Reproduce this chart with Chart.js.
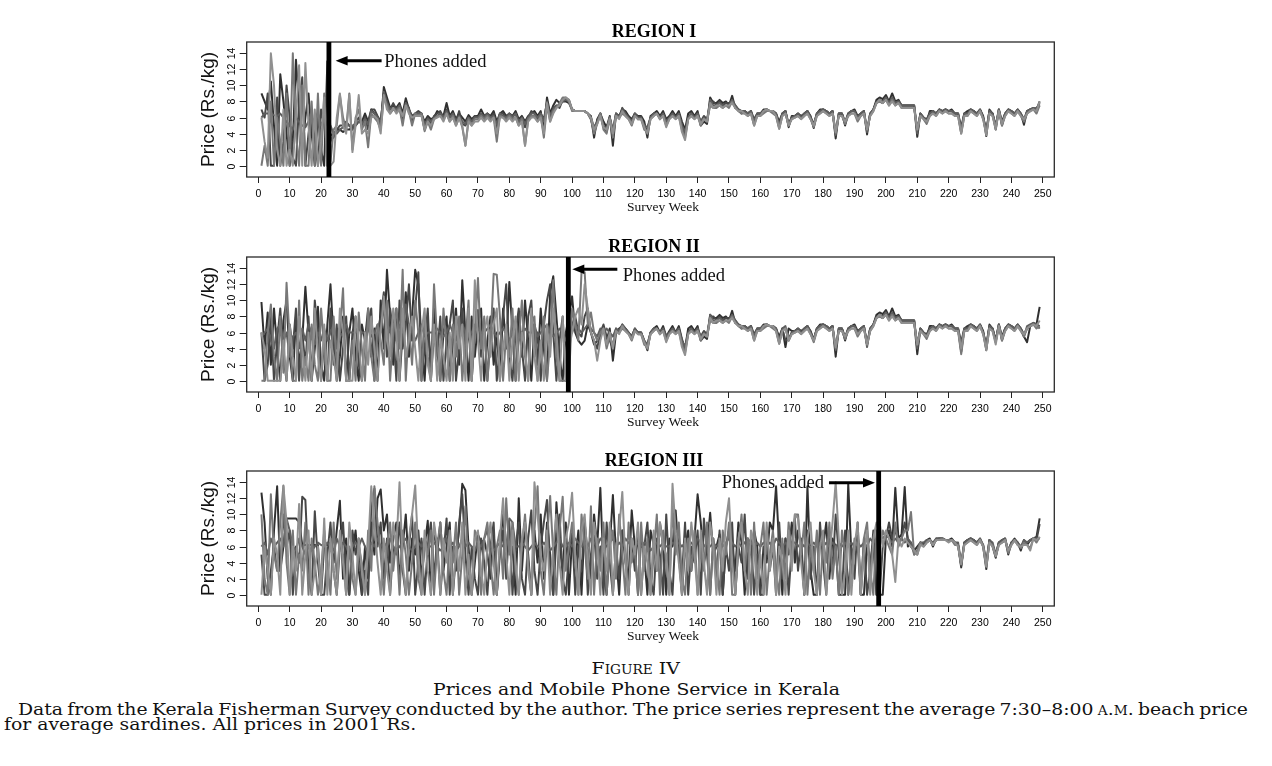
<!DOCTYPE html>
<html>
<head>
<meta charset="utf-8">
<script src="https://cdn.jsdelivr.net/npm/chart.js@4.4.0/dist/chart.umd.min.js"></script>
<style>
html,body{margin:0;padding:0;background:#fff;width:1272px;height:766px;overflow:hidden;}
.panel{position:absolute;left:0;width:1272px;height:215px;}
#p1{top:0px} #p2{top:215px} #p3{top:429px}
.cap{position:absolute;white-space:nowrap;font-family:"DejaVu Serif",serif;color:#111;line-height:1;}
.sc{font-variant:small-caps;}
</style>
</head>
<body>
<div class="panel" id="p1"><canvas id="c1" width="1272" height="215"></canvas></div>
<div class="panel" id="p2"><canvas id="c2" width="1272" height="215"></canvas></div>
<div class="panel" id="p3"><canvas id="c3" width="1272" height="215"></canvas></div>
<div id="figNum" class="cap sc">Figure IV</div>
<div id="figTitle" class="cap">Prices and Mobile Phone Service in Kerala</div>
<div id="line1" class="cap">Data from the Kerala Fisherman Survey conducted by the author. The price series represent the average 7:30–8:00 <span class="sc">a.m.</span> beach price</div>
<div id="line2" class="cap">for average sardines. All prices in 2001 Rs.</div>
<script>
// ---------------- DATA (weekly beach prices, Rs./kg) ----------------
const regionTitles = ['REGION I', 'REGION II', 'REGION III'];
const phoneWeeks = [22.5, 98.8, 197.7];
const xAxisTitle = 'Survey Week';
const yAxisTitle = 'Price (Rs./kg)';
const annotationText = 'Phones added';

// Region I
const r1_s1 = [
9,8,7,10.5,5,0,11.4,8,4,0,3,13.2,7,2,6,9,4,0,6.5,2,0,13,
4,3.5,4.5,4.5,4.2,4.5,4.5,4.8,5,5.5,
5.5,6.5,5.5,7,6.5,6,5,9.8,8.5,7.2,
7.5,7.2,7.8,6.5,8.4,7,6.2,6.5,6.5,6.5,
5.5,6.2,5.8,6,6.8,6.5,6.2,7.8,6.2,6.8,
5.8,6.5,6,5.5,6.3,5.8,6.2,6.2,7,6.2,
6.5,6.2,6.8,5.5,6.5,6.8,6.2,6.5,6.2,6.8,
5.8,6.2,5.5,6.2,6.5,6.8,6.2,6.8,4.5,8.5,
6.5,7.5,8.2,7.8,8,8,7.8,7,6.8,6.8,
6.8,6.8,6.5,6.2,3.5,5.8,6.5,5.5,4.8,6.2,
2.5,6.5,6.2,7,6.8,6.2,5.8,6.5,6.2,6.2,
5.5,3.5,6.2,6.5,6.8,6.2,6.8,5.8,6.2,6.8,
6.2,6.8,5.5,4.5,6.5,6.8,6.2,6.8,5,5.5,
5.2,8.5,7.8,7.8,8.2,7.8,8,7.5,8.7,7.2,
7,6.5,6.8,6.5,6.8,5.2,6.5,6.5,7,7,
6.8,6.8,6.5,5.5,6.5,6.8,4.8,6.2,6.2,6.5,
6.2,6.5,6.8,6.2,4.7,6.5,7,7,6.8,6.5,
6.8,3.4,6.5,6.5,5,6.5,6.8,7,6.2,6.5,
6.8,3.9,6.5,7,8.2,8.5,8.3,8.8,8,9,
8,8.2,7.5,7.5,7.5,7.5,7.5,3.6,6.5,6,
5.5,6.8,6.8,6.5,7,6.8,7,6.8,7,6.5,
6.5,4.2,6.5,6.8,7,6.8,6.5,7,6.2,3.7,
7,6.5,4.5,7,5.5,6.5,7,6.8,6.5,7,
6.5,5.1,6.8,7,7,7.2,7.5];
const r1_s2 = [
7,6,9,0,0,8.5,0,3,10,6,1,0,8,11,0,4,7,3,0,7,5,2,
3,4,4.5,5,5,5.5,5,4.5,5.5,6,
5,6,4.5,7,7,6.2,5.5,9,8,7,
7.8,7,7.2,5.5,7.8,7.2,5.5,6.5,6.8,6.5,
4.5,6,5.2,6.2,6.5,6.8,6,7,6,6.5,
5.5,6.8,5.2,5,6,5.5,6.2,6,6.5,6.2,
6.5,6,6.5,4.5,6.5,6.5,6,6.5,6.2,6.5,
5.2,6,4.8,6,6.8,6.5,5.8,6.5,5.8,7.8,
6,7.2,7.5,7.2,8.2,8.4,8.2,7,6.8,6.8,
6.8,6.8,6.5,5.8,4.2,5.5,6.5,4.8,4.2,6,
4.2,6.5,6,7.2,6.5,6,5.5,6.5,5.8,6,
4.8,4.5,6,6.5,6.5,6,6.5,5.5,6,6.5,
6,6.5,5,3.8,6,6.5,6,6.5,5.5,6.2,
5.8,7.8,8,7.5,8,7.5,7.8,7.8,8,7.5,
7,6.8,6.8,6.5,6.8,5.8,6.5,6.5,6.8,7,
6.8,6.8,6.5,4.8,6.5,6.8,5.2,6,6.2,6.5,
6,6.5,6.8,6,5.2,6.5,6.8,7,6.8,6.5,
6.8,4,6.5,6.5,5.5,6.5,6.8,6.8,6,6.5,
6.8,4.5,6.5,7,8,8,7.8,8.5,7.8,8.2,
7.8,8,7.5,7.5,7.5,7.5,7.5,4.5,6.5,6,
5.8,6.5,6.8,6.5,7,6.8,7,6.8,6.8,6.5,
6.5,4.8,6.5,6.5,7,6.8,6.5,7,6,4.5,
6.8,6.5,5,7,5,6.5,7,6.8,6.5,7,
6.5,5.8,6.8,7,7.2,7,8];
const r1_s3 = [
6,6.5,6.5,6.5,6.3,6.2,6.5,6,5.5,5,4.5,6,5.5,5,4.8,5.5,6,5.5,6.5,5,6,5,
5,4,4,4.5,4.8,5,5,5,5.2,5.5,
5.2,5.8,5.2,6.8,6.5,6,5.2,9.2,7.8,7,
7.2,7,7.5,6.2,7.8,7,6,6.5,6.5,6.5,
5.2,5.8,5.5,6,6.2,6.5,6,6.8,6,6.5,
5.5,6.2,5.5,5.2,6,5.5,6,6,6.5,6,
6.5,6,6.2,5.2,6.5,6.2,6,6.5,6,6.5,
5.5,6,5.2,6,6.5,6.5,6,6.5,5.5,8,
6.2,7,7.5,7.5,8,8.2,8,7,6.8,6.8,
6.8,6.8,6.5,6,4.8,5.5,6.5,5,4.5,6,
4.5,6.5,6,7,6.5,6,5.5,6.5,6,6,
5,4.8,6,6.5,6.5,6,6.5,5.5,6,6.5,
6,6.5,5,4.2,6,6.5,6,6.5,5.5,6,
5.5,8.2,7.5,7.5,7.8,7.5,7.5,7.5,8.2,7.5,
7,6.8,6.8,6.5,6.8,5.5,6.5,6.5,6.8,7,
6.8,6.8,6.5,5,6.5,6.8,5,6,6.2,6.5,
6,6.5,6.8,6,5,6.5,6.8,7,6.8,6.5,
6.8,3.8,6.5,6.5,5.2,6.5,6.8,6.8,6,6.5,
6.8,4.2,6.5,7,7.8,8.2,8,8.5,7.8,8.5,
7.8,8,7.5,7.5,7.5,7.5,7.5,4,6.5,6,
5.5,6.5,6.8,6.5,7,6.8,7,6.8,6.8,6.5,
6.5,4.5,6.5,6.5,7,6.8,6.5,7,6,4.2,
6.8,6.5,4.8,7,5.2,6.5,7,6.8,6.5,7,
6.5,5.5,6.8,7,7.2,7,7.8];
const r1_s4 = [
0,2.5,0,8,0,6,3,0,9,0,14,4,0,10,0,0,8,0,9,0,9,0,
0.5,4.5,5,8.8,6,4.5,9,2,6,7,
4.5,5.5,2.3,6.5,6,5.5,4.5,8.5,7.5,6.5,
7,6.8,7.2,5,7.5,6.8,5,6.5,6.2,6.5,
4.3,5.5,4.5,5.8,6.2,6.2,5.8,6.5,5.5,6.2,
5,6,4.8,2.5,5.8,5,5.8,5.8,6.2,5.8,
6.2,5.8,6,3,6.2,6,5.8,6.2,5.8,6,
5,5.8,2.5,5.8,6.2,6.2,5.5,6.2,3.5,7.5,
5.5,6.8,7.2,7.8,8.5,8.5,8,6.8,6.8,6.8,
6.8,6.8,6.5,5.8,4,5.2,6.5,4.5,4,6,
3.5,6.2,6,6.5,6.2,5.8,5,6.2,5.8,5.8,
4.5,4.2,5.8,6.2,6.5,5.8,6.2,5,5.8,6.2,
5.8,6.2,4.5,3.5,5.8,6.2,5.8,6.2,5,5.8,
5.5,7.5,7.2,7.2,7.5,7.2,7.5,7.2,8,7.2,
6.8,6.5,6.5,6.2,6.5,5,6.2,6.2,6.5,6.8,
6.8,6.5,6.2,4.6,6.2,6.5,5,5.8,6,6.2,
5.8,6.2,6.5,5.8,4.8,6.2,6.5,6.8,6.5,6.2,
6.5,4,6.2,6.2,5.2,6.2,6.5,6.5,5.5,6.2,
6.5,4.5,6.2,6.8,7.8,8,7.8,8.2,7.5,8.2,
7.5,7.8,7.2,7.2,7.2,7.2,7.2,4.5,6.2,5.8,
5.2,6.2,6.5,6.2,6.8,6.5,6.8,6.5,6.5,6.2,
6.2,4,6.2,6.2,6.8,6.5,6.2,6.8,5.8,4,
6.5,6.2,4.8,6.8,5,6.2,6.8,6.5,6.2,6.8,
6.2,5.5,6.5,6.8,7,6.5,7.5];
const r1_s5 = [
6,3,1,14,10,2,0,7,0,2,0,6,12.5,0,12.8,5,0,7,0,3,8.5,0,
0,0.5,6,9,5,4,8.8,1.7,5,8.8,
4,4.5,4,6,6.2,5.8,4,8.8,7,6.5,
7.2,6.5,7,6.2,7.5,6.5,6,6.2,6.2,6.2,
4.5,5.5,5,5.8,6,6.2,5.5,6.5,5.5,6,
5,6,5,2.5,5.5,5,5.5,5.5,6,5.5,
6,5.5,6,4,6,6,5.5,6,5.5,6,
5,5.5,2.5,5.5,6,6,5.5,6,4,7.8,
5.5,6.5,7.2,7.5,8.2,8.5,8.2,7,6.8,6.8,
6.8,6.8,6.5,6,4.5,5.2,6.2,4.8,4.5,5.8,
4,6.2,5.8,6.8,6.2,5.8,5.2,6.2,5.8,5.8,
4.8,4,5.8,6.2,6.5,5.8,6.2,4.8,5.8,6.2,
5.8,6.2,4.2,3.2,5.8,6.2,5.8,6.2,5.2,5.8,
5.5,7.8,7.2,7.5,7.5,7.2,7.5,7.5,7.8,7.2,
6.8,6.8,6.5,6.2,6.5,5,6.2,6.2,6.8,7,
6.8,6.8,6.2,4.6,6.2,6.5,5,5.8,6,6.2,
5.8,6.2,6.5,5.8,5,6.2,6.5,6.8,6.5,6.2,
6.5,4.2,6.2,6.2,5.5,6.2,6.5,6.5,5.8,6.2,
6.5,4.5,6.2,6.8,7.8,8.2,7.8,8.2,7.5,8,
7.5,7.8,7.2,7.2,7.2,7.2,7.2,4.5,6.2,5.8,
5.5,6.2,6.5,6.2,6.8,6.5,6.8,6.5,6.5,6.2,
6.2,4,6.2,6.2,6.8,6.5,6.2,6.8,5.8,3.8,
6.5,6.2,4.5,6.8,5.2,6.2,6.8,6.5,6.2,6.8,
6.2,5.8,6.5,6.8,7,6.8,8];

// Region II
const r2_s1 = [
9.8,4,8.5,2,9,4,0,7.5,10,3,
0,8,2,5,11.7,6,0,4,9.2,2,
0,7,12,5,0,3,8,0,6,9,
3,0,7,5,9,3,6.5,0,10,4,
13.8,8,2,9,0,6,11,3,8,13.8,
12,5,0,7,2,9,4,0,6,8,
0,5,9,2,12.5,6,0,8,3,7,
9,0,5,8,2,6,0,9,4,12.3,
6,0,8,3,10,5,0,7,2,9,
4,0,11,13,8,3,0,6,
8,10.5,6,5,4.5,5,7,6,4.5,5,5.5,6.5,5,6.5,2.5,6,6.5,6.8,6.5,6,5.5,6.5,6,
6,5,3.8,6,6.5,6.8,6,6.8,5.5,6.2,
6.8,6,6.8,5.2,4,6.5,6.8,6.2,6.8,5,
5.5,5.2,8.2,7.8,7.8,8.2,7.8,8,7.5,8.7,
7.2,7,6.5,6.8,6.5,6.8,5.2,6.5,6.5,7,
7,6.8,6.8,6.5,5.5,6.5,4.2,6.5,6.2,6.2,
6.5,6.2,6.5,6.8,6.2,5,6.5,7,7,6.8,
6.5,6.8,3,6.5,6.5,5,6.5,6.8,7,6.2,
6.5,6.8,4.6,6.5,7,8.2,8.5,8.3,8.8,8,
9,8,8.2,7.5,7.5,7.5,7.5,7.5,3.3,6.5,
6,5.5,6.8,6.8,6.5,7,6.8,7,6.8,7,
6.5,6.5,3.6,6.5,6.8,7,6.8,6.5,7,6.2,
3.8,7,6.5,5,7,5.5,6.5,7,6.8,6.5,
7,6.5,5.5,4.8,6.8,7,7,9.2];
const r2_s2 = [
6,0,2,8,0,5,9,3,0,7,
4,9,0,6,2,8,0,10,6,0,
5,0,9,2,7,0,4,8,0,6,
8,2,0,5,7,9,0,6,8,11,
3,9,6,0,10,4,7,12,5,9,
13.5,0,4,9,0,6,3,8,0,5,
7,10,0,4,9,2,7,0,6,8.8,
3,7,0,6,9,0,4,8,12,3,
0,6,9,4,0,8,10,3,6,0,
7,10,12,6,0,5,8,0,
5,7,8,6,5.5,8,9,6,5,4,6,7,5.5,5,4,6.5,6,7,6.5,6,5.5,6.2,6,
6,4.8,4.5,6,6.5,6.5,6,6.5,5.5,6,
6.5,6,6.5,5,3.8,6,6.5,6,6.5,5.5,
6.2,5.8,7.8,8,7.5,8,7.5,7.8,7.8,8,
7.5,7,6.8,6.8,6.5,6.8,5.8,6.5,6.5,6.8,
7,6.8,6.8,6.5,4.8,6.5,5,5.2,6,6.2,
6.5,6,6.5,6.8,6,5.2,6.5,6.8,7,6.8,
6.5,6.8,4,6.5,6.5,5.5,6.5,6.8,6.8,6,
6.5,6.8,4.5,6.5,7,8,8,7.8,8.5,7.8,
8.2,7.8,8,7.5,7.5,7.5,7.5,7.5,4.5,6.5,
6,5.8,6.5,6.8,6.5,7,6.8,7,6.8,6.8,
6.5,6.5,4.8,6.5,6.5,7,6.8,6.5,7,6,
4.5,6.8,6.5,5,7,5,6.5,7,6.8,6.5,
7,6.5,5.8,6.5,6.8,7.2,7,6.8];
const r2_s3 = [
5.5,6,6.5,5,4,6.5,7,5,6,3,
5.5,6,4,6.5,5,7,6,4.5,6,5,
6.5,5,6,7,4,6,5.5,7,6,6,
6,6.5,6,6,6.5,5.5,6,7,6,9,
7,6,8,5,7,6,9.5,7,6,5,
6,7,5.5,6,6,6,6.5,6,5.5,6,
7,6,5,6.5,7,6,5.5,6,7,6.5,
6,6,6.5,7,6,5.5,6,6.5,6,5,
6,7,5,6,6.5,6,6,7,5.5,6,
6.5,7,6,5.5,6,6.5,6,5,
6,6,7,6.5,6,6.5,7,6.5,6,5.5,6.5,6,6.5,6,5.5,6.5,6.2,7,6.5,6,5.5,6.5,6,
6,5,4.5,6,6.5,6.5,6,6.5,5.5,6,
6.5,6,6.5,5,4.2,6,6.5,6,6.5,5.5,
6,5.5,8.2,7.5,7.5,7.8,7.5,7.5,7.5,8.2,
7.5,7,6.8,6.8,6.5,6.8,5.5,6.5,6.5,6.8,
7,6.8,6.8,6.5,5,6.5,6.8,5,6,6.2,
6.5,6,6.5,6.8,6,5,6.5,6.8,7,6.8,
6.5,6.8,3.8,6.5,6.5,5.2,6.5,6.8,6.8,6,
6.5,6.8,4.2,6.5,7,7.8,8.2,8,8.5,7.8,
8.5,7.8,8,7.5,7.5,7.5,7.5,7.5,4,6.5,
6,5.5,6.5,6.8,6.5,7,6.8,7,6.8,6.8,
6.5,6.5,4.5,6.5,6.5,7,6.8,6.5,7,6,
4.2,6.8,6.5,4.8,7,5.2,6.5,7,6.8,6.5,
7,6.5,5.5,6.8,7,7.2,7,6.5];
const r2_s4 = [
0,0,6,9.5,3,0,8,1,12.2,5,
0,0,10,0,3,0,7,2,0,9,
4,0,0,8,2,6,11.5,0,0,5,
0,8.5,4,0,9,3,0,7,5,2,
10,0,6,9,4,13.8,0,7,2,10,
6,0,8,3,0,12,5,0,9,4,
0,7,3,8,0,5,10,0,6,12.8,
4,8,0,5,13.3,13.2,8,0,6,3,
9,0,5,10,3,0,7,8,0,4,
8,0,5,12.5,3,0,0,0,
0,9,7,5,13.5,13.5,7,8.5,6,5,6,6.5,4,5.5,4.5,6,6,6.5,6.2,5.8,5,6.2,5.8,
5.8,4.5,4.2,5.8,6.2,6.5,5.8,6.2,5,5.8,
6.2,5.8,6.2,4.5,3.5,5.8,6.2,5.8,6.2,5,
5.8,5.5,7.5,7.2,7.2,7.5,7.2,7.5,7.2,8,
7.2,6.8,6.5,6.5,6.2,6.5,5,6.2,6.2,6.5,
6.8,6.8,6.5,6.2,4.6,6.2,6.5,5,5.8,6,
6.2,5.8,6.2,6.5,5.8,4.8,6.2,6.5,6.8,6.5,
6.2,6.5,4,6.2,6.2,5.2,6.2,6.5,6.5,5.5,
6.2,6.5,4.5,6.2,6.8,7.8,8,7.8,8.2,7.5,
8.2,7.5,7.8,7.2,7.2,7.2,7.2,7.2,4.5,6.2,
5.8,5.2,6.2,6.5,6.2,6.8,6.5,6.8,6.5,6.5,
6.2,6.2,3.3,6.2,6.2,6.8,6.5,6.2,6.8,5.8,
4,6.5,6.2,4.8,6.8,5,6.2,6.8,6.5,6.2,
6.8,6.2,5.5,6.5,6.8,7,6.5,6.8];
const r2_s5 = [
6,4,0,0,0,0,0,5,0,7,
3,0,8,4,0,6,0,9,3,0,
7,0,5,3,0,9,6,0,0,0,
8,5,0,6,2,8,4,0,6,10.5,
5,3,9,6,0,9,3,5,8,4,
0,6,9,2,0,7,0,5,3,0,
6,0,8,4,7,0,9,0,12.5,5,
0,6,8,3,7,9,0,4,7,0,
5,8,0,6,4,0,9,3,0,5,
0,7,3,9,6,0,8,0,
4,6,8,9,7,12,9,6,5,2.5,5,6.5,4.5,6,4,6.2,5.8,6.8,6.2,5.8,5.2,6.2,5.8,
5.8,4.8,4,5.8,6.2,6.5,5.8,6.2,4.8,5.8,
6.2,5.8,6.2,4.2,3.2,5.8,6.2,5.8,6.2,5.2,
5.8,5.5,7.8,7.2,7.5,7.5,7.2,7.5,7.5,7.8,
7.2,6.8,6.8,6.5,6.2,6.5,5,6.2,6.2,6.8,
7,6.8,6.8,6.2,4.6,6.2,6.5,5,5.8,6,
6.2,5.8,6.2,6.5,5.8,5,6.2,6.5,6.8,6.5,
6.2,6.5,4.2,6.2,6.2,5.5,6.2,6.5,6.5,5.8,
6.2,6.5,4.5,6.2,6.8,7.8,8.2,7.8,8.2,7.5,
8,7.5,7.8,7.2,7.2,7.2,7.2,7.2,4.5,6.2,
5.8,5.5,6.2,6.5,6.2,6.8,6.5,6.8,6.5,6.5,
6.2,6.2,4,6.2,6.2,6.8,6.5,6.2,6.8,5.8,
3.8,6.5,6.2,4.5,6.8,5.2,6.2,6.8,6.5,6.2,
6.8,6.2,5.8,6.5,6.8,7,6.8,7.5];

// Region III
const r3_s1 = [
12.7,9,2,0,8,13.5,3,6,9.5,9.5,
9.5,9.5,9,6.2,6.2,6.2,6.2,6.2,6.2,0,
6.2,6.2,6.5,4,8,11.7,2,7,0,5,
8,3,0,6,2,9,5,12,13.1,8,
10,4,7,9,2,6,10,3,7,5,
8,2,6,9.2,0,8.5,5,9,3,6,
9,0,5,8,13.8,13,6,0,4,7.5,
6.5,6.8,5,2,8,0,6,10,5,6,
6,0,12,3,9,5,0,8,4,10,
2,9,5,0,11.5,6,3,9,0,7,
4,8,0,9,5,2,10,6,13.3,3,
0,6,12.4,5,0,8,4,2,10.5,6,
0,7,5,0,8,6.2,3,9,6,0,
7,6,10.5,5,0,6,8,3,7,12.5,
9,4,6,10.2,5,6,7.5,0,6,8,
6,3,9,6.5,0,7,5,8,6,0,
6,4,9,8,13.5,6,0,7,5,9,
4,8,6,0,13.5,3,0,0,7,6,
9,2,7,6,0,0,0,13.8,5,6,
8,0,0,6,4,6.5,0,
0,0,7,8,6,13.3,7,7.5,13.4,6,
6.5,5.5,6,6.5,6.2,6.8,7,6,7,7,
7,6.8,6.8,7,6.5,6.2,3.4,6.5,6.8,7,
6.8,6.5,7,6,3.2,6.8,6,4.6,6.5,6.8,
7,5,6.5,7,6.5,5.5,6.8,6.2,6.8,7,
7.2,9.5];
const r3_s2 = [
5,0,0,3,6,3,3,10,6,8,
0,6,4,12.2,11.8,3,0,10.4,4,0,
0,5,9,3,0,6,9,2,0,8,
5,7,0,3,0,11,13.2,6,9,2,
7,0,6,5,9,3,0,6,10,0,
4,7,0,6,9,2,7,0,5,9.5,
0,6,3,9,12.5,5,0,6,2,0,
7,4,0,6,9,0,5,8,2,9,
0,6,9,2,0,7,10.5,3,0,6,
9,11.8,3,0,7,10,2,0,5,8,
0,6,3,9,0,5,8,2,6,0,
9,4,0,6,2,8,5,0,7,3,
8,0,6,9,2,0,7,5,0,10,
3,0,8,6,2,9,0,6,4,8,
0,9.5,5,0,7,2,8,0,6,3,
9,0,6,4,10,2,7,0,5,0,
0,8,3,6,0,9,2,7,0,6,
9.5,3,7,0,8,2,6,0,9,4,
0,7,3,10,5,0,8,0,6,2,
9,0,7,0,3,8,0,
0,6,7,9,7,8,6.5,7,9,7,
6,5.5,5,6.5,6.2,6.5,6.8,6.2,6.8,7,
7,6.8,6.8,6.8,6.5,6.2,3.6,6.5,6.8,7,
6.8,6.5,6.8,6.2,3.8,6.8,6.2,5,6.5,6.5,
6.8,5.5,6.5,6.8,6.5,5.8,6.5,6.5,6.8,7,
6.8,8.8];
const r3_s3 = [
6,6.5,5,7,6,6.5,7,6,9.5,8,
6,5.5,7,6,5,6,5.5,6,6.5,6.2,
6,6.5,6,5.5,7,6,6.5,6,5,6,
6.5,6,7,6,5,6.5,6,7,6,6.5,
6,7,6,5.5,6,6.5,7,6,5.5,6,
6.5,6,7,6,6,6.5,6,5.5,6,7,
6,6.5,5.5,6,7,6,6.5,6,5.5,6.5,
6,7,8,6,5.5,6,6.5,6,6,9.5,
9,6,6,6.5,6,5.5,6,6.5,6,6,
6.5,6,5.5,6,6.5,7,6,6,6.5,6,
7,6.5,6,6.5,6,7,6.5,6,7,6.5,
6,6.5,7,6,6.5,6,7,6.5,6,6,
6.5,6,6.5,6,5.5,6,6.5,6,6.5,6,
6,6.5,6,6.5,6,6.5,6,6.5,6,7,
6.5,6,6.5,6,6.5,6,6.5,6,6.5,7,
6.5,6,6.5,6,6.5,7,6.5,6,6.5,6,
6.5,6,6.5,6,7,6.5,6,6.5,6,6.5,
6.5,6,6.5,6,6.5,6,6.5,6,6.5,6,
6.5,6,6.5,6,6.5,6,6.5,6,6.5,6,
6.5,6,6.5,6,7,6.5,7,
7.5,7,7.5,7,6.5,7,6.5,7,6.5,7,
6.5,5,5.5,6.5,6.5,6.8,6.8,6.5,7,7,
7,6.8,6.8,6.8,6.5,6.5,4,6.5,6.8,7,
6.8,6.5,7,6.2,4.2,6.8,6.5,5,6.5,6.8,
7,5.5,6.5,6.8,6.5,6,6.8,6.5,6.8,7,
7,7];
const r3_s4 = [
10,2,0,12.5,5,3,9,13.6,4,0,
8,0,5,3,9,0,7,4,0,3,
8,4,0,9,2,7,5,0,6,2,
0,6,4,0,8,3,13.5,9,5,0,
6,9,3,7,0,8,5,0,4,9,
2,0,7,5,8,0,6,9,3,0,
7,4,9,0,5,11,3,0,8,6,
0,7,9,4,0,6,8,2,12,5,
9,3,0,6,10,4,0,8,13.5,3,
0,7,12.3,5,0,8,12.2,3,6,9,
4,0,10,6,2,11,0,7,3,9,
0,6,8,2,10,5,0,9,4,6,
0,9,3,7,0,5,10,0,8,4,
0,11,5,9,2,0,7,3,8,0,
6,3,9,0,7,4,0,8,5,9,
0,0,6,10,3,7,0,9,2,6,
9,0,5,8,3,0,7,2,9,5,
10,10,5,9,0,6,3,8,0,7,
4,9,2,6,0,8,5,0,3,7,
6,0,7,9,3,0,8,
6,8,7,6,5,9,6,7,8,8,
10.3,5,5.5,6.5,6,6.5,6.8,6.2,6.8,6.8,
7,6.8,6.8,6.8,6.2,6.2,3.8,6.2,6.5,6.8,
6.5,6.2,6.8,6,3.5,6.5,6.2,4.8,6.2,6.5,
6.8,5.2,6.2,6.8,6.2,5.8,6.5,6.2,5.8,7,
6.5,7.2];
const r3_s5 = [
0,6,3,0,7,5,0,13.5,9,0,
6,3,11.3,0,5,8,0,3,6,0,
9.5,0,7,3,0,8,4,0,9,5,
0,7,3,0,6,13.5,9,4,0,7,
3,0,9,6,14,4,0,7,10,13.6,
5,0,8,3,0,9,6,0,7,4,
8,0,6,3,9,0,5,0,7,8,
3,0,6,9,4,0,7,12,5,0,
8,4,0,7,9,3,0,14,10,5,
3,8,0,6,10,4,0,7,9,12.7,
5,0,8,10,4,0,9,6,0,7,
3,9,0,6,8,12.8,4,0,7,5,
9,0,6,4,0,8,3,9,6,5,
0,13.8,8,4,0,7,3,9,5,0,
8,4,0,9,6,0,7,3,9,12,
4,0,7,9,3,0,8,6,0,5,
0,9,3,7,0,6,4,0,8,3,
10,9.5,4,0,7,9,3,0,6,8,
0,5,9,14,7,0,3,8,0,6,
9,0,5,8,0,7,9,
9,6,8,7,5,1.6,7,6,7,6.5,
6,5.5,5,6.2,6,6.5,6.8,6.2,6.8,6.8,
6.8,6.8,6.5,6.8,6.5,6,3.8,6.2,6.5,6.8,
6.5,6.2,6.8,6,3.5,6.5,6,4.8,6.2,6.5,
6.8,5.5,6.2,6.8,6.2,6,6.2,6.2,5.5,7,
6.8,7.2];

const region1 = [r1_s1, r1_s2, r1_s3, r1_s4, r1_s5];
const region2 = [r2_s1, r2_s2, r2_s3, r2_s4, r2_s5];
const region3 = [r3_s1, r3_s2, r3_s3, r3_s4, r3_s5];

// ---------------- STYLE / LAYOUT ----------------
const lineColors = ['#303030', '#474747', '#5e5e5e', '#787878', '#909090'];
const weekOf = i => i + 1; // survey weeks are numbered from 1

const arrows = [
  {tipDx: 6.7, tailDx: 52.7, y: 60.7, textDx: 55.3, textAlign: 'left', baseline: 66.7},
  {tipDx: 4, tailDx: 49, y: 54.3, textDx: 54.4, textAlign: 'left', baseline: 66},
  {tipDx: -3.7, tailDx: -49.7, y: 53.7, textDx: -54.7, textAlign: 'right', baseline: 59.3}
];

const deco = {
  id: 'deco',
  afterDraw(chart, args, o) {
    const {ctx, chartArea: a, scales: {x, y}} = chart;
    ctx.save();
    ctx.strokeStyle = '#2a2a2a'; ctx.lineWidth = 1.3;
    ctx.strokeRect(a.left, a.top, a.right - a.left, a.bottom - a.top);
    ctx.lineWidth = 1; ctx.strokeStyle = '#222'; ctx.fillStyle = '#000';
    ctx.font = '10.5px "Liberation Sans", Arial, sans-serif';
    ctx.textAlign = 'center'; ctx.textBaseline = 'middle';
    y.ticks.forEach(t => {
      const py = Math.round(y.getPixelForValue(t.value)) + 0.5;
      ctx.beginPath(); ctx.moveTo(a.left - 7, py); ctx.lineTo(a.left, py); ctx.stroke();
      ctx.save(); ctx.translate(a.left - 15, py); ctx.rotate(-Math.PI / 2);
      ctx.fillText(String(t.value), 0, 0); ctx.restore();
    });
    ctx.fillStyle = '#111';
    ctx.save(); ctx.translate(a.left - 38.4, (a.top + a.bottom) / 2); ctx.rotate(-Math.PI / 2);
    ctx.font = '19px "Liberation Sans", Arial, sans-serif';
    ctx.fillText(yAxisTitle, 0, 0); ctx.restore();
    ctx.textBaseline = 'alphabetic';
    ctx.font = '13.5px "Liberation Serif", "Times New Roman", serif';
    ctx.fillText(xAxisTitle, o.xTitleX, o.xTitleBaseline);
    ctx.font = 'bold 18px "Liberation Serif", "Times New Roman", serif';
    ctx.fillStyle = '#000';
    ctx.fillText(o.title, o.titleX, o.titleBaseline);
    const px = x.getPixelForValue(o.phoneWeek);
    ctx.fillRect(px - 2.4, a.top, 4.8, a.bottom - a.top);
    const ar = o.arrow;
    const tip = px + ar.tipDx, tail = px + ar.tailDx, ay = ar.y;
    const dir = Math.sign(tail - tip);
    ctx.strokeStyle = '#000'; ctx.lineWidth = 3;
    ctx.beginPath(); ctx.moveTo(tail, ay); ctx.lineTo(tip + dir * 9, ay); ctx.stroke();
    ctx.beginPath(); ctx.moveTo(tip, ay); ctx.lineTo(tip + dir * 12, ay - 4.8); ctx.lineTo(tip + dir * 12, ay + 4.8); ctx.closePath(); ctx.fill();
    ctx.font = '18.5px "Liberation Serif", "Times New Roman", serif';
    ctx.fillStyle = '#111';
    ctx.textAlign = ar.textAlign;
    ctx.fillText(annotationText, px + ar.textDx, ar.baseline);
    ctx.restore();
  }
};

function makeChart(id, series, k) {
  return new Chart(document.getElementById(id), {
    type: 'line',
    data: {
      datasets: series.map((s, j) => ({
        data: s.map((v, i) => ({x: weekOf(i), y: v})),
        borderColor: lineColors[j],
        borderWidth: 2,
        pointRadius: 0,
        tension: 0,
        fill: false,
        borderJoinStyle: 'round',
        order: series.length - j
      }))
    },
    options: {
      responsive: false,
      animation: false,
      events: [],
      layout: {padding: {left: 246.7, right: 217.7, top: 42, bottom: 6}},
      plugins: {
        legend: {display: false},
        tooltip: {enabled: false},
        deco: {
          title: regionTitles[k], titleX: 654, titleBaseline: 37.3,
          xTitleX: 663, xTitleBaseline: 210.5,
          phoneWeek: phoneWeeks[k], arrow: arrows[k]
        }
      },
      scales: {
        x: {
          type: 'linear', min: -3.7, max: 253.67,
          afterFit: s => { s.height = 32; },
          border: {display: false},
          grid: {drawOnChartArea: false, drawTicks: true, tickLength: 6, color: '#222', lineWidth: 1},
          ticks: {stepSize: 10, includeBounds: false, maxTicksLimit: 100, autoSkip: false,
                  maxRotation: 0, minRotation: 0, padding: 5, color: '#000',
                  font: {family: '"Liberation Sans", Arial, sans-serif', size: 10.5}}
        },
        y: {
          type: 'linear', min: -1.4, max: 15.4,
          afterFit: s => { s.width = 0; },
          border: {display: false},
          grid: {display: false},
          ticks: {display: false, stepSize: 2, includeBounds: false, maxTicksLimit: 100}
        }
      }
    },
    plugins: [deco]
  });
}

makeChart('c1', region1, 0);
makeChart('c2', region2, 1);
makeChart('c3', region3, 2);

// ---------------- CAPTION LAYOUT ----------------
(function () {
  const ids = ['figNum', 'figTitle', 'line1', 'line2'];
  const els = ids.map(id => document.getElementById(id));
  const fs = 16.5;
  els.forEach(e => { e.style.fontSize = fs + 'px'; });
  const title = els[1];
  const sx = 407 / title.getBoundingClientRect().width;
  const centers = [669, 690, 710, 725];
  els.forEach((e, i) => { e.style.top = (centers[i] - fs / 2) + 'px'; });
  // centred lines
  [els[0], els[1]].forEach(e => {
    const w = e.getBoundingClientRect().width;
    e.style.left = (636 - w / 2) + 'px';
    e.style.transformOrigin = '50% 50%';
    e.style.transform = 'scaleX(' + sx + ')';
  });
  // paragraph lines
  const l1 = els[2], l2 = els[3];
  l1.style.left = '18px'; l2.style.left = '4px';
  const wl = l1.getBoundingClientRect().width;
  const spaces = (l1.textContent.match(/ /g) || []).length;
  l1.style.wordSpacing = ((1230 / sx - wl) / spaces) + 'px';
  [l1, l2].forEach(e => { e.style.transformOrigin = '0 50%'; e.style.transform = 'scaleX(' + sx + ')'; });
})();
</script>
</body>
</html>
